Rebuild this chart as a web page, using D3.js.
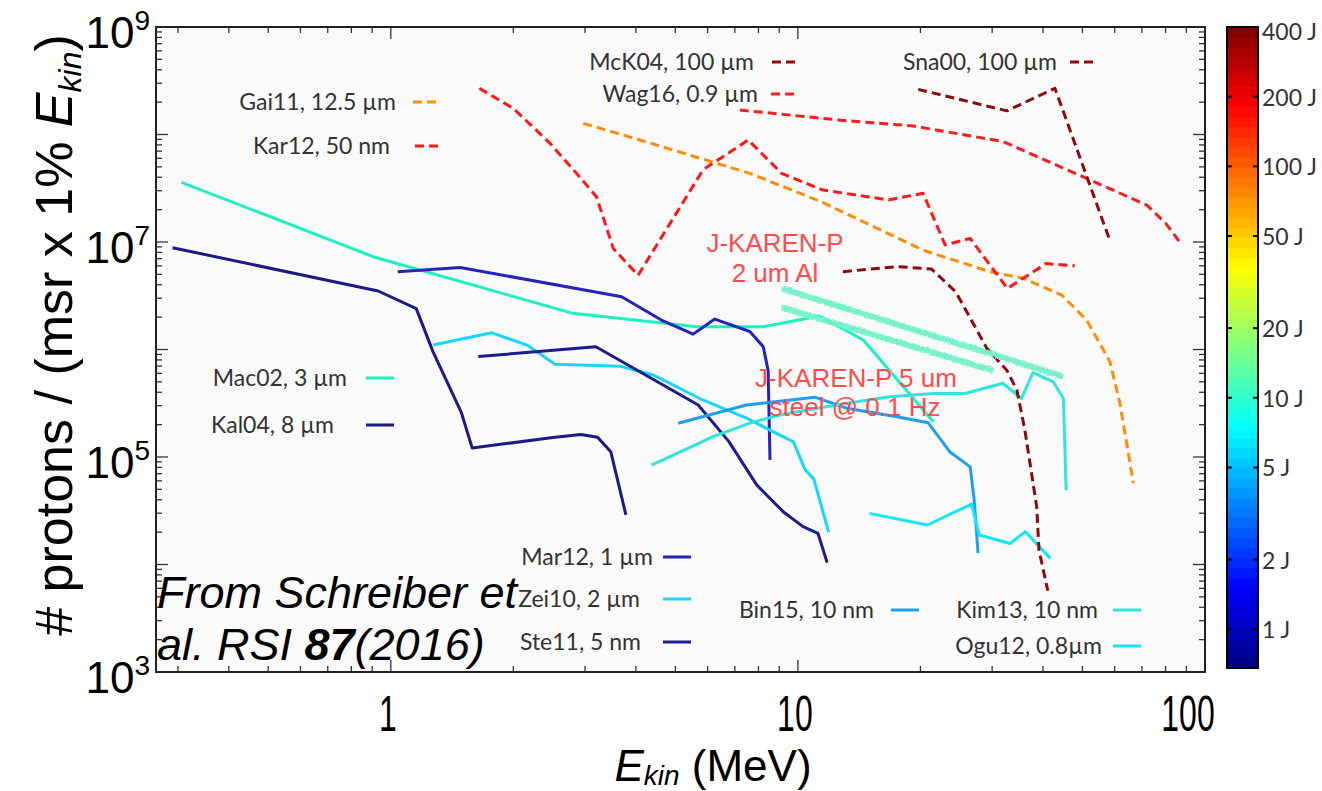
<!DOCTYPE html>
<html>
<head>
<meta charset="utf-8">
<script src="https://cdn.jsdelivr.net/npm/d3@7"></script>
<style>
  body { margin: 0; background: #fff; }
  svg { display: block; }
</style>
</head>
<body>
<svg id="chart" width="1322" height="791"></svg>
<script>
// ---- Spectra: [kinetic energy (MeV), protons / (msr x 1% Ekin)] ----
const gai11 = [[2.97,1.27e8],[4.09,8.9e7],[7.62,4.35e7],[11.4,2.37e7],[20.3,8.4e6],[29.6,5.3e6],[35.8,4.6e6],[44.5,3.2e6],[51.2,1.88e6],[58.4,7.7e5],[61.8,3.16e5],[66.7,5.7e4]];
const kar12 = [[1.65,2.69e8],[2.0,1.75e8],[2.46,8.3e7],[2.81,4.7e7],[3.2,2.64e7],[3.52,8.7e6],[4.05,4.9e6],[5.85,4.7e7],[7.55,8.9e7],[9.12,4.35e7],[11.5,3.05e7],[16.7,2.46e7],[20.3,2.84e7],[23.0,9.4e6],[26.5,1.08e7],[32.7,3.7e6],[40.7,6.3e6],[47.9,6.0e6]];
const mck04 = [[12.9,5.3e6],[17.6,5.9e6],[21.3,5.6e6],[24.4,3.45e6],[26.5,1.96e6],[29.1,1.03e6],[32.6,6.4e5],[34.5,4.2e5],[36.1,1.78e5],[38.6,3.45e4],[39.1,1.36e4],[41.1,5.7e3]];
const wag16 = [[7.2,1.69e8],[12.7,1.36e8],[19.2,1.2e8],[31.9,8.6e7],[50.1,4.05e7],[72,2.2e7],[80,1.5e7],[87,9.8e6]];
const sna00 = [[19.75,2.63e8],[32.6,1.66e8],[42.8,2.69e8],[58.4,1.03e7]];
const mac02 = [[0.306,3.59e7],[0.905,7.3e6],[2.8,2.17e6],[5.64,1.63e6],[8.22,1.63e6],[11.3,2.05e6],[14.5,1.22e6],[21.5,2.13e5]];
const kal04 = [[0.291,8.85e6],[0.931,3.5e6],[1.155,2.4e6],[1.27,9.5e5],[1.49,2.6e5],[1.585,1.21e5],[2.5,1.52e5],[2.93,1.62e5],[3.22,1.53e5],[3.47,1.12e5],[3.78,2.9e4]];
const mar12 = [[1.04,5.3e6],[1.48,5.8e6],[3.69,3.1e6],[4.62,1.88e6],[5.53,1.39e6],[6.25,1.92e6],[7.62,1.47e6],[8.22,1.06e6],[8.45,6.4e5],[8.54,9.4e4]];
const zei10 = [[1.27,1.1e6],[1.77,1.43e6],[2.16,1.1e6],[2.53,7.3e5],[3.65,7.0e5],[4.41,5.8e5],[5.74,3.5e5],[7.48,2.3e5],[9.03,1.6e5],[9.74,1.39e5],[10.4,7.7e4],[10.95,6.2e4],[11.9,2.0e4]];
const ste11 = [[1.64,8.6e5],[3.19,1.06e6],[5.69,3.05e5],[6.77,1.39e5],[7.92,5.5e4],[9.2,3.1e4],[10.3,2.25e4],[11.2,1.95e4],[11.8,1.04e4]];
const bin15 = [[5.08,2.06e5],[7.48,3.05e5],[11.0,3.6e5],[13.2,2.84e5],[17.5,2.37e5],[20.9,2.08e5],[23.6,1.12e5],[26.5,8.1e4],[27.1,4.0e4],[27.7,1.28e4]];
const kim13 = [[4.37,8.4e4],[6.19,1.55e5],[7.62,2.07e5],[9.2,2.5e5],[13.2,3.16e5],[16.8,3.64e5],[21.5,3.9e5],[25.7,3.9e5],[31.9,4.85e5],[35.4,3.5e5],[37.8,6.1e5],[42.4,5.0e5],[44.9,3.5e5],[45.6,4.9e4]];
const ogu12 = [[15.0,2.99e4],[20.8,2.33e4],[26.7,3.65e4],[27.9,1.88e4],[33.2,1.57e4],[36.2,2.02e4],[41.7,1.14e4]];
// J-KAREN-P projections
const jkarenAl = [[9.13,3.7e6],[44.9,5.6e5]];
const jkarenSteel = [[9.13,2.46e6],[30.2,6.35e5]];

// ---- Axis / colour bar labels ----
const xTickLabels = [1, 10, 100];
const yTickExponents = [3, 5, 7, 9];
const energyTicks = [1, 2, 5, 10, 20, 50, 100, 200, 400];
const energyRange = [0.68, 400];

// ---- Series order, legend text ----
const series = [
  { key: "Mac02", label: "Mac02, 3 \u00b5m", values: mac02 },
  { key: "Kal04", label: "Kal04, 8 \u00b5m", values: kal04 },
  { key: "Mar12", label: "Mar12, 1 \u00b5m", values: mar12 },
  { key: "Zei10", label: "Zei10, 2 \u00b5m", values: zei10 },
  { key: "Ste11", label: "Ste11, 5 nm", values: ste11 },
  { key: "Bin15", label: "Bin15, 10 nm", values: bin15 },
  { key: "Kim13", label: "Kim13, 10 nm", values: kim13 },
  { key: "Ogu12", label: "Ogu12, 0.8\u00b5m", values: ogu12 },
  { key: "Gai11", label: "Gai11, 12.5 \u00b5m", values: gai11 },
  { key: "Kar12", label: "Kar12, 50 nm", values: kar12 },
  { key: "McK04", label: "McK04, 100 \u00b5m", values: mck04 },
  { key: "Wag16", label: "Wag16, 0.9 \u00b5m", values: wag16 },
  { key: "Sna00", label: "Sna00, 100 \u00b5m", values: sna00 }
];

// ---- Styling ----
const lineStyle = {
  Mac02: { color: "#1ff0c2", dashed: false },
  Kal04: { color: "#1c1a84", dashed: false },
  Mar12: { color: "#2424bb", dashed: false },
  Zei10: { color: "#19d6ff", dashed: false },
  Ste11: { color: "#1e1c8c", dashed: false },
  Bin15: { color: "#1c9ff2", dashed: false },
  Kim13: { color: "#2fe6da", dashed: false },
  Ogu12: { color: "#12e6fa", dashed: false },
  Gai11: { color: "#ff8c0a", dashed: true },
  Kar12: { color: "#ff1616", dashed: true },
  McK04: { color: "#8e0b0b", dashed: true },
  Wag16: { color: "#ff1c1c", dashed: true },
  Sna00: { color: "#8a0c0c", dashed: true }
};
// legend: right end of label, vertical centre, start of sample line
const legendLayout = {
  Gai11: { textEnd: 396, y: 101, lineX: 413 },
  Kar12: { textEnd: 390, y: 145, lineX: 415 },
  McK04: { textEnd: 754, y: 61, lineX: 772 },
  Wag16: { textEnd: 758, y: 93, lineX: 771 },
  Sna00: { textEnd: 1057, y: 61, lineX: 1070 },
  Mac02: { textEnd: 347, y: 377, lineX: 366 },
  Kal04: { textEnd: 334, y: 424, lineX: 366 },
  Mar12: { textEnd: 653, y: 556, lineX: 663 },
  Zei10: { textEnd: 640, y: 598, lineX: 663 },
  Ste11: { textEnd: 641, y: 641, lineX: 663 },
  Bin15: { textEnd: 874, y: 609, lineX: 891 },
  Kim13: { textEnd: 1098, y: 609, lineX: 1113 },
  Ogu12: { textEnd: 1102, y: 645, lineX: 1113 }
};

const plot = { left: 156, right: 1205, top: 27, bottom: 672 };
const cbar = { left: 1227, right: 1258, top: 27, bottom: 668 };
const labelFont = "Lato, 'Open Sans', sans-serif";
const axisFont = "'Liberation Sans', Arial, sans-serif";

const svg = d3.select("#chart");

const x = d3.scaleLog().domain([0.265, 100]).range([plot.left, plot.right]);
const y = d3.scaleLog().domain([1e3, 1e9]).range([plot.bottom, plot.top]);

const defs = svg.append("defs");
defs.append("clipPath").attr("id", "plot-clip")
  .append("rect")
  .attr("x", plot.left).attr("y", plot.top)
  .attr("width", plot.right - plot.left).attr("height", plot.bottom - plot.top);

// rough, chalky texture for the projected J-KAREN-P lines
const rough = defs.append("filter").attr("id", "rough")
  .attr("x", "-5%").attr("y", "-50%").attr("width", "110%").attr("height", "200%");
rough.append("feTurbulence").attr("type", "fractalNoise")
  .attr("baseFrequency", "0.9").attr("numOctaves", 2).attr("seed", 3).attr("result", "noise");
rough.append("feDisplacementMap").attr("in", "SourceGraphic").attr("in2", "noise")
  .attr("scale", 4).attr("xChannelSelector", "R").attr("yChannelSelector", "G");

// plot background
svg.append("rect")
  .attr("x", plot.left).attr("y", plot.top)
  .attr("width", plot.right - plot.left).attr("height", plot.bottom - plot.top)
  .attr("fill", "#fafafa");

// ---- ticks (inside the frame, all four sides) ----
const ticks = svg.append("g").attr("stroke", "#333").attr("stroke-width", 1.3);
const isDecade = v => Math.abs(Math.log10(v) - Math.round(Math.log10(v))) < 1e-9;
x.ticks().filter(v => v > x.domain()[0] && v <= 100).forEach(v => {
  const len = isDecade(v) ? 12 : 6, px = x(v);
  ticks.append("line").attr("x1", px).attr("x2", px).attr("y1", plot.bottom).attr("y2", plot.bottom - len);
  ticks.append("line").attr("x1", px).attr("x2", px).attr("y1", plot.top).attr("y2", plot.top + len);
});
y.ticks().forEach(v => {
  const len = isDecade(v) ? 12 : 6, py = y(v);
  ticks.append("line").attr("x1", plot.left).attr("x2", plot.left + len).attr("y1", py).attr("y2", py);
  ticks.append("line").attr("x1", plot.right).attr("x2", plot.right - len).attr("y1", py).attr("y2", py);
});

// ---- data lines ----
const line = d3.line().x(d => x(d[0])).y(d => y(d[1]));
const lines = svg.append("g").attr("clip-path", "url(#plot-clip)").attr("fill", "none");
series.forEach(s => {
  const st = lineStyle[s.key];
  lines.append("path")
    .datum(s.values)
    .attr("d", line)
    .attr("stroke", st.color)
    .attr("stroke-width", 3)
    .attr("stroke-linejoin", "round")
    .attr("stroke-dasharray", st.dashed ? "9,5" : null);
});

// projected J-KAREN-P spectra
[jkarenAl, jkarenSteel].forEach(v => {
  lines.append("path")
    .datum(v)
    .attr("d", line)
    .attr("stroke", "#6ff2c9")
    .attr("stroke-width", 6)
    .attr("opacity", 0.95)
    .attr("filter", "url(#rough)");
});

// ---- legend ----
const legend = svg.append("g");
series.forEach(s => {
  const L = legendLayout[s.key], st = lineStyle[s.key];
  legend.append("text")
    .attr("x", L.textEnd).attr("y", L.y)
    .attr("text-anchor", "end").attr("dominant-baseline", "central")
    .attr("font-family", labelFont).attr("font-size", 23).attr("fill", "#333")
    .text(s.label);
  legend.append("line")
    .attr("x1", L.lineX).attr("x2", L.lineX + 28)
    .attr("y1", L.y + 1).attr("y2", L.y + 1)
    .attr("stroke", st.color).attr("stroke-width", 3)
    .attr("stroke-dasharray", st.dashed ? "9,5" : null);
});

// ---- annotations ----
const note = svg.append("g")
  .attr("font-family", axisFont).attr("font-size", 26).attr("fill", "#ff4b4b")
  .attr("text-anchor", "middle");
note.append("text").attr("x", 775).attr("y", 252).text("J-KAREN-P");
note.append("text").attr("x", 775).attr("y", 282).text("2 um Al");
note.append("text").attr("x", 856).attr("y", 387).text("J-KAREN-P 5 um");
note.append("text").attr("x", 855).attr("y", 416).text("steel @ 0.1 Hz");

const cite = svg.append("g")
  .attr("font-family", axisFont).attr("font-size", 45).attr("font-style", "italic").attr("fill", "#000");
cite.append("text").attr("x", 157).attr("y", 608).text("From Schreiber et");
const cite2 = cite.append("text").attr("x", 157).attr("y", 660);
cite2.append("tspan").text("al. RSI ");
cite2.append("tspan").attr("font-weight", "bold").text("87");
cite2.append("tspan").text("(2016)");

// ---- frame ----
svg.append("rect")
  .attr("x", plot.left).attr("y", plot.top)
  .attr("width", plot.right - plot.left).attr("height", plot.bottom - plot.top)
  .attr("fill", "none").attr("stroke", "#222").attr("stroke-width", 2);

// ---- y tick labels ----
const yLab = svg.append("g").attr("font-family", axisFont).attr("fill", "#000");
yTickExponents.forEach(e => {
  const t = yLab.append("text")
    .attr("x", 150).attr("y", y(Math.pow(10, e)) + 21)
    .attr("text-anchor", "end").attr("font-size", 44);
  t.append("tspan").text("10");
  t.append("tspan").attr("font-size", 28).attr("dy", -18).text(String(e));
});

// ---- x tick labels (condensed) ----
const xLab = svg.append("g").attr("font-family", axisFont).attr("fill", "#000");
xTickLabels.forEach(v => {
  xLab.append("g")
    .attr("transform", `translate(${x(v) + (v === 100 ? -17 : -3)},731) scale(0.64,1)`)
    .append("text")
    .attr("text-anchor", "middle").attr("font-size", 50)
    .text(String(v));
});

// ---- axis titles ----
const xt = svg.append("text")
  .attr("x", 713).attr("y", 781).attr("text-anchor", "middle")
  .attr("font-family", axisFont).attr("font-size", 44).attr("fill", "#000");
xt.append("tspan").attr("font-style", "italic").text("E");
xt.append("tspan").attr("font-style", "italic").attr("font-size", 28).attr("dy", 4).text("kin");
xt.append("tspan").attr("dy", -4).text(" (MeV)");

const yt = svg.append("text")
  .attr("transform", "translate(72,335) rotate(-90)")
  .attr("text-anchor", "middle")
  .attr("font-family", axisFont).attr("font-size", 52).attr("fill", "#000");
yt.append("tspan").text("# protons / (msr x 1% ");
yt.append("tspan").attr("font-style", "italic").text("E");
yt.append("tspan").attr("font-style", "italic").attr("font-size", 32).attr("dy", 9).text("kin");
yt.append("tspan").attr("dy", -9).text(")");

// ---- energy colour bar ----
const cb = d3.scaleLog().domain(energyRange).range([cbar.bottom, cbar.top]);
function jet(t) {
  const c = v => Math.max(0, Math.min(1, v));
  const r = c(1.5 - Math.abs(4 * t - 3));
  const g = c(1.5 - Math.abs(4 * t - 2));
  const b = c(1.5 - Math.abs(4 * t - 1));
  return d3.rgb(r * 255, g * 255, b * 255).formatHex();
}
const bands = d3.range(64);
const bandH = (cbar.bottom - cbar.top) / bands.length;
svg.append("g").selectAll("rect").data(bands).join("rect")
  .attr("x", cbar.left).attr("width", cbar.right - cbar.left)
  .attr("y", i => cbar.bottom - (i + 1) * bandH)
  .attr("height", bandH + 0.6)
  .attr("fill", i => jet((i + 0.5) / bands.length));
svg.append("rect")
  .attr("x", cbar.left).attr("y", cbar.top)
  .attr("width", cbar.right - cbar.left).attr("height", cbar.bottom - cbar.top)
  .attr("fill", "none").attr("stroke", "#000").attr("stroke-width", 2);
const cbTicks = svg.append("g").attr("stroke", "#000").attr("stroke-width", 2);
energyTicks.filter(v => v < energyRange[1]).forEach(v => {
  cbTicks.append("line").attr("x1", cbar.left).attr("x2", cbar.left + 5).attr("y1", cb(v)).attr("y2", cb(v));
  cbTicks.append("line").attr("x1", cbar.right - 5).attr("x2", cbar.right).attr("y1", cb(v)).attr("y2", cb(v));
});
svg.append("g").selectAll("text").data(energyTicks).join("text")
  .attr("x", cbar.right + 4)
  .attr("y", v => cb(v) + (v === energyRange[1] ? 4 : 0))
  .attr("dominant-baseline", "central")
  .attr("font-family", labelFont).attr("font-size", 23).attr("fill", "#333")
  .text(v => v + " J");
</script>
</body>
</html>
